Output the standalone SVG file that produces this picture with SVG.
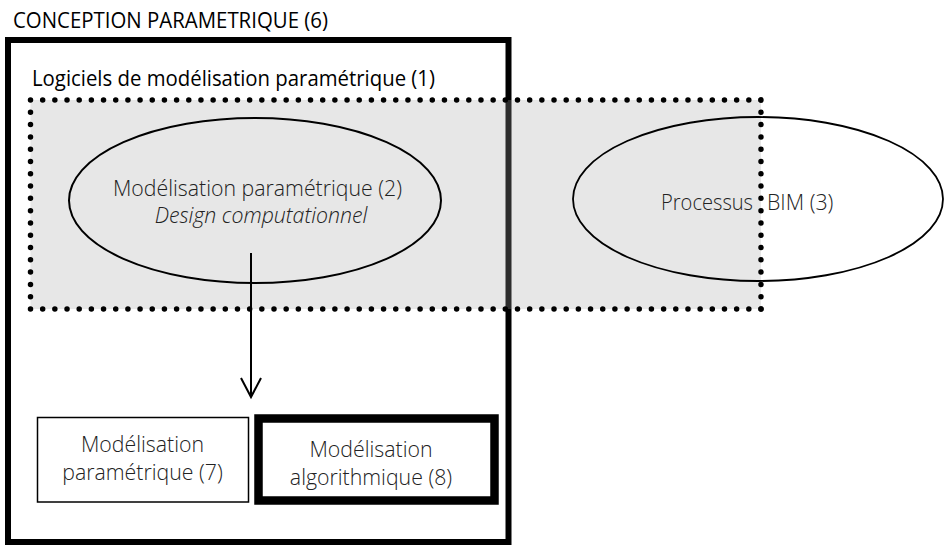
<svg xmlns="http://www.w3.org/2000/svg" width="944" height="548" viewBox="0 0 944 548">
<style>
.t{font-family:"Open Sans","Noto Sans","DejaVu Sans",sans-serif;font-size:21.3px;fill:#222;font-weight:300}
.h{font-family:"Open Sans","Noto Sans","DejaVu Sans",sans-serif;font-size:21.5px;fill:#000}
.dot{fill:none;stroke:#000;stroke-width:5.5;stroke-linecap:round;stroke-dasharray:0 1}
.ln{fill:none;stroke:#000;stroke-width:2}
</style>
<rect width="944" height="548" fill="#fff"/>
<g id="conception">
<rect x="8" y="40" width="500.5" height="502" fill="none" stroke="#000" stroke-width="6"/>
<text class="h" x="13" y="28" textLength="315" lengthAdjust="spacingAndGlyphs">CONCEPTION PARAMETRIQUE (6)</text>
</g>
<g id="logiciels">
<rect x="30.5" y="100" width="730.5" height="209" fill="#a8a8a8" fill-opacity="0.27"/>
<text class="h" x="32" y="86" textLength="403" lengthAdjust="spacingAndGlyphs">Logiciels de modélisation paramétrique (1)</text>
</g>
<g id="modelisation2">
<ellipse cx="255" cy="200.5" rx="186" ry="82.5" fill="none" stroke="#000" stroke-width="2"/>
<text class="t" x="257.5" y="196" text-anchor="middle">Modélisation paramétrique (2)</text>
<text class="t" x="261" y="223" text-anchor="middle" font-style="italic">Design computationnel</text>
</g>
<g id="bim3">
<ellipse cx="758" cy="199" rx="185" ry="82" fill="none" stroke="#000" stroke-width="1.8"/>
<text class="t" y="210"><tspan x="661" textLength="92" lengthAdjust="spacingAndGlyphs">Processus</tspan> <tspan x="767">BIM (3)</tspan></text>
</g>
<g id="dotted-border">
<line class="dot" x1="30.5" y1="100" x2="761" y2="100" pathLength="60"/>
<line class="dot" x1="761" y1="100" x2="761" y2="309" pathLength="17"/>
<line class="dot" x1="761" y1="309" x2="30.5" y2="309" pathLength="60"/>
<line class="dot" x1="30.5" y1="309" x2="30.5" y2="100" pathLength="17"/>
</g>
<g id="connectors">
<line class="ln" x1="251" y1="253" x2="251" y2="396"/>
<polyline class="ln" points="241,378 251,397 261,378"/>
</g>
<g id="modelisation7">
<rect x="37.5" y="417.5" width="211" height="84.5" fill="#fff" stroke="#000" stroke-width="1.5"/>
<text class="t" x="142.5" y="452" text-anchor="middle">Modélisation</text>
<text class="t" x="142.5" y="479.5" text-anchor="middle">paramétrique (7)</text>
</g>
<g id="modelisation8">
<rect x="258.5" y="418.5" width="236" height="82" fill="#fff" stroke="#000" stroke-width="8.5"/>
<text class="t" x="371" y="456.5" text-anchor="middle">Modélisation</text>
<text class="t" x="371" y="484.5" text-anchor="middle">algorithmique (8)</text>
</g>
</svg>
